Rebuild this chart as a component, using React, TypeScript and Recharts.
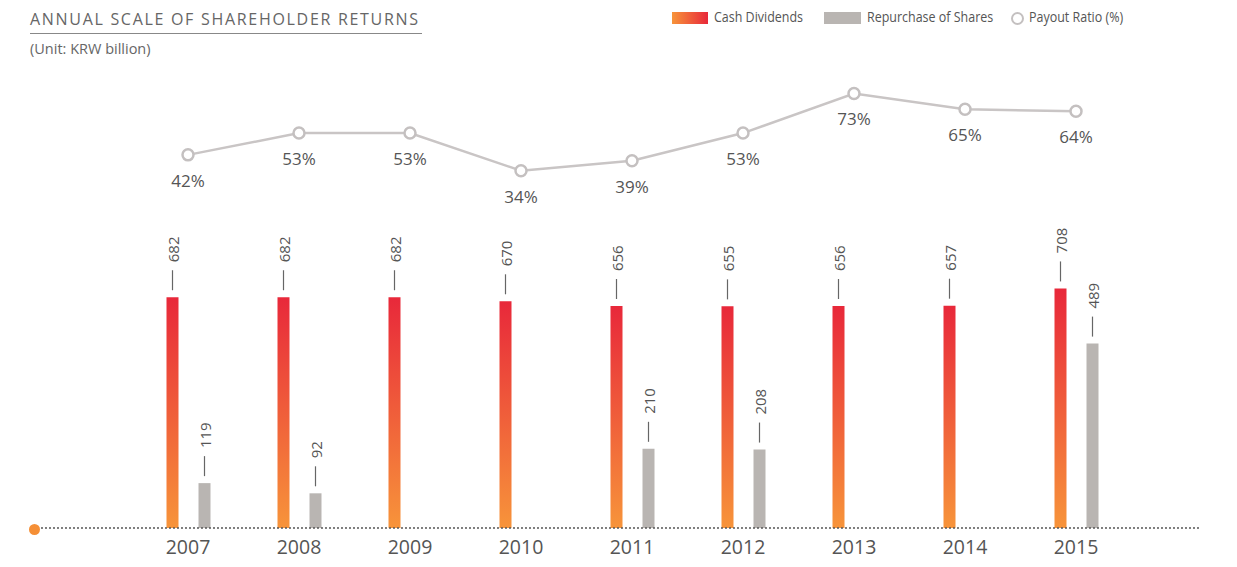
import { ComposedChart, Bar, Line, XAxis, YAxis } from "recharts";

const years = ["2007", "2008", "2009", "2010", "2011", "2012", "2013", "2014", "2015"];
const cashDividends = [682, 682, 682, 670, 656, 655, 656, 657, 708];
const repurchase = [119, 92, null, null, 210, 208, null, null, 489];
const payoutRatio = [42, 53, 53, 34, 39, 53, 73, 65, 64];

const data = years.map((year, i) => ({
  year,
  cash: cashDividends[i],
  repurchase: repurchase[i],
  payout: payoutRatio[i],
}));

const textFont = "'Open Sans', sans-serif";

// rotated value with a small dash above each bar
function BarValue(props: any) {
  const { x, y, width, value } = props;
  if (value == null) return null;
  const cx = x + width / 2;
  return (
    <g>
      <line x1={cx} x2={cx} y1={y - 7} y2={y - 27} stroke="#666" strokeWidth={1.2} />
      <text
        x={cx + 1}
        y={y - 35}
        transform={`rotate(-90 ${cx + 1} ${y - 35})`}
        textAnchor="start"
        dominantBaseline="central"
        fontSize={15}
        fontFamily={textFont}
        fill="#555"
      >
        {value}
      </text>
    </g>
  );
}

function PctLabel(props: any) {
  const { x, y, value } = props;
  return (
    <text x={x} y={y + 32} textAnchor="middle" fontSize={17} fontFamily={textFont} fill="#555">
      {value}%
    </text>
  );
}

const legendText = {
  position: "absolute" as const,
  top: 7,
  fontFamily: textFont,
  fontSize: 14.5,
  color: "#555",
  whiteSpace: "nowrap" as const,
  transform: "scaleX(0.86)",
  transformOrigin: "left center",
};

export default function App() {
  return (
    <div style={{ position: "absolute", left: 0, top: 0, width: 1237, height: 567, background: "#fff" }}>
      <div
        style={{
          position: "absolute",
          left: 30,
          top: 8,
          width: 392,
          fontFamily: textFont,
          fontSize: 16,
          letterSpacing: 1.7,
          color: "#666",
          whiteSpace: "nowrap",
          lineHeight: "22px",
          borderBottom: "1.5px solid #888",
          paddingBottom: 3,
        }}
      >
        ANNUAL SCALE OF SHAREHOLDER RETURNS
      </div>
      <div style={{ position: "absolute", left: 30, top: 39, fontFamily: textFont, fontSize: 14.5, color: "#666", whiteSpace: "nowrap" }}>
        (Unit: KRW billion)
      </div>

      <div style={{ position: "absolute", left: 672, top: 12, width: 36, height: 12, background: "linear-gradient(to right, #F7943A, #E8283A)" }} />
      <div style={{ ...legendText, left: 714 }}>Cash Dividends</div>
      <div style={{ position: "absolute", left: 824, top: 12, width: 37, height: 12, background: "#B9B5B2" }} />
      <div style={{ ...legendText, left: 867 }}>Repurchase of Shares</div>
      <div style={{ position: "absolute", left: 1011, top: 12, width: 9, height: 9, borderRadius: "50%", border: "2.5px solid #C4C0C0" }} />
      <div style={{ ...legendText, left: 1029 }}>Payout Ratio (%)</div>

      <ComposedChart width={1237} height={567} data={data} margin={{ top: 80, right: 37, bottom: 0, left: 34 }} barSize={12} barGap={20}>
        <defs>
          <linearGradient id="cashGrad" x1="0" y1="0" x2="0" y2="1">
            <stop offset="0%" stopColor="#E8283A" />
            <stop offset="100%" stopColor="#F7943A" />
          </linearGradient>
        </defs>
        <XAxis
          dataKey="year"
          height={39}
          padding={{ left: 98.5, right: 68.5 }}
          tickLine={false}
          tickSize={0}
          tickMargin={12}
          axisLine={{ stroke: "#555", strokeWidth: 2, strokeDasharray: "0 4", strokeLinecap: "round" }}
          tick={{ fontSize: 19.5, fontFamily: textFont, fill: "#555" }}
        />
        <YAxis yAxisId="cash" hide domain={[0, 1324]} />
        <YAxis yAxisId="rep" hide domain={[0, 1188]} />
        <YAxis yAxisId="pct" hide domain={[-146.4, 79.8]} />
        <Bar yAxisId="cash" dataKey="cash" fill="url(#cashGrad)" isAnimationActive={false} label={BarValue} />
        <Bar yAxisId="rep" dataKey="repurchase" fill="#B9B5B2" isAnimationActive={false} label={BarValue} />
        <Line
          yAxisId="pct"
          dataKey="payout"
          stroke="#C9C5C5"
          strokeWidth={2.5}
          dot={{ r: 5.5, fill: "#fff", stroke: "#C4C0C0", strokeWidth: 2.5 }}
          activeDot={false}
          isAnimationActive={false}
          label={PctLabel}
        />
      </ComposedChart>

      <div style={{ position: "absolute", left: 29, top: 524, width: 11, height: 11, borderRadius: "50%", background: "#F58F36" }} />
    </div>
  );
}
